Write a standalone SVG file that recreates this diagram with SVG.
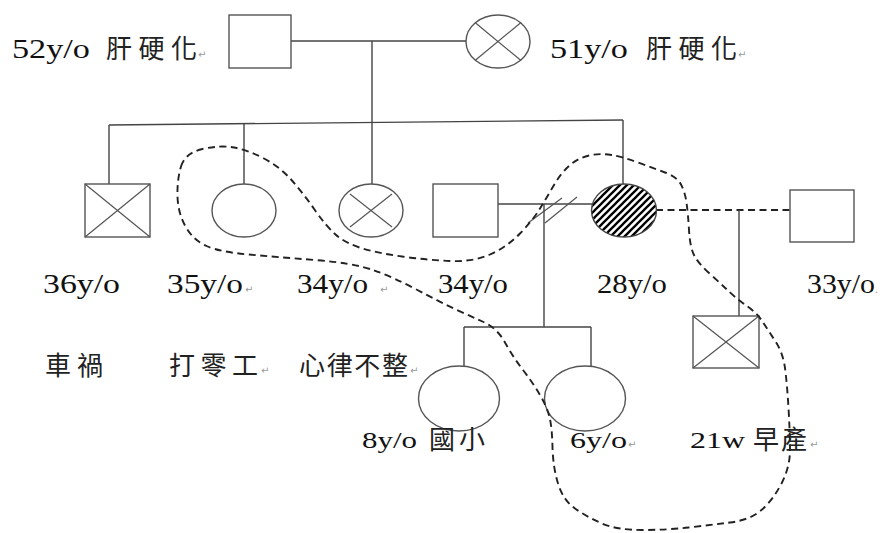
<svg xmlns="http://www.w3.org/2000/svg" width="886" height="533" viewBox="0 0 886 533">
<defs>
<pattern id="hatch" patternUnits="userSpaceOnUse" width="7" height="7">
<path d="M-1,1 L1,-1 M0,7 L7,0 M6,8 L8,6" stroke="#000" stroke-width="2.3"/>
</pattern>
<style>
.shape{fill:#fff;stroke:#555;stroke-width:1.4}
.x{stroke:#555;stroke-width:1.2;fill:none}
.ln{stroke:#444;stroke-width:1.4;fill:none}
.dash{stroke:#222;stroke-width:1.9;fill:none;stroke-dasharray:7 4.5}
.lat{font-family:"Liberation Serif","Times New Roman",serif;font-size:27px;fill:#111}
.sm{font-size:24px}
.cjk{font-family:"Noto Sans CJK TC","Noto Sans CJK SC",sans-serif;font-size:26px;fill:#222}
.ret{font-family:"DejaVu Sans",sans-serif;font-size:10px;fill:#999}
</style>
</defs>
<rect width="886" height="533" fill="#fff"/>

<g id="connectors">
<line class="ln" x1="290" y1="41" x2="466" y2="41"/>
<line class="ln" x1="372" y1="41" x2="372" y2="184"/>
<line class="ln" x1="109" y1="125" x2="623" y2="120"/>
<line class="ln" x1="109" y1="125" x2="109" y2="184"/>
<line class="ln" x1="244" y1="124" x2="244" y2="184"/>
<line class="ln" x1="623" y1="120" x2="623" y2="184"/>
<line class="ln" x1="498" y1="204" x2="592" y2="204"/>
<line class="x" x1="528" y1="223" x2="562" y2="198"/>
<line class="x" x1="545" y1="223" x2="577" y2="197"/>
<line class="ln" x1="544" y1="204" x2="544" y2="327"/>
<line class="ln" x1="464" y1="327" x2="591" y2="327"/>
<line class="ln" x1="464" y1="327" x2="464" y2="366"/>
<line class="ln" x1="591" y1="327" x2="591" y2="366"/>
<line class="dash" x1="656" y1="210" x2="790" y2="210"/>
<line class="ln" x1="739" y1="210" x2="739" y2="316"/>
</g>

<g id="father">
<rect class="shape" x="229" y="15" width="62" height="53"/>
<text class="lat" x="12" y="58" textLength="78" lengthAdjust="spacingAndGlyphs">52y/o</text>
<text class="cjk" x="106" y="58" textLength="91" lengthAdjust="spacing">肝硬化</text>
<text class="ret" x="198" y="58">↵</text>
</g>

<g id="mother">
<ellipse class="shape" cx="498" cy="41.5" rx="32" ry="26.5"/>
<line class="x" x1="475" y1="22.5" x2="521" y2="60.5"/>
<line class="x" x1="521" y1="22.5" x2="475" y2="60.5"/>
<text class="lat" x="550" y="58" textLength="78" lengthAdjust="spacingAndGlyphs">51y/o</text>
<text class="cjk" x="646" y="58" textLength="91" lengthAdjust="spacing">肝硬化</text>
<text class="ret" x="738" y="58">↵</text>
</g>

<g id="son36">
<rect class="shape" x="85" y="184" width="65" height="53"/>
<line class="x" x1="85" y1="184" x2="150" y2="237"/>
<line class="x" x1="150" y1="184" x2="85" y2="237"/>
<text class="lat" x="43" y="293" textLength="77" lengthAdjust="spacingAndGlyphs">36y/o</text>
<text class="cjk" x="45" y="375" textLength="58" lengthAdjust="spacing">車禍</text>
</g>

<g id="daughter35">
<ellipse class="shape" cx="244" cy="210.5" rx="32" ry="26.5"/>
<text class="lat" x="167" y="293" textLength="76" lengthAdjust="spacingAndGlyphs">35y/o</text>
<text class="ret" x="245" y="293">↵</text>
<text class="cjk" x="169" y="375" textLength="89" lengthAdjust="spacing">打零工</text>
<text class="ret" x="261" y="374">↵</text>
</g>

<g id="daughter34">
<ellipse class="shape" cx="371" cy="210.5" rx="32" ry="26.5"/>
<line class="x" x1="350" y1="194" x2="392" y2="227"/>
<line class="x" x1="392" y1="194" x2="350" y2="227"/>
<text class="lat" x="297" y="293" textLength="71" lengthAdjust="spacingAndGlyphs">34y/o</text>
<text class="ret" x="380" y="293">↵</text>
<text class="cjk" x="299" y="375" textLength="109" lengthAdjust="spacing">心律不整</text>
<text class="ret" x="410" y="374">↵</text>
</g>

<g id="exhusband34">
<rect class="shape" x="433" y="184" width="65" height="53"/>
<text class="lat" x="438" y="293" textLength="70" lengthAdjust="spacingAndGlyphs">34y/o</text>
</g>

<g id="index28">
<ellipse cx="624" cy="210.5" rx="32.5" ry="26.5" fill="url(#hatch)" stroke="#444" stroke-width="1.4"/>
<text class="lat" x="597" y="293" textLength="70" lengthAdjust="spacingAndGlyphs">28y/o</text>
</g>

<g id="partner33">
<rect class="shape" x="790" y="190" width="64" height="52"/>
<text class="lat" x="807" y="293" textLength="68" lengthAdjust="spacingAndGlyphs">33y/o</text>
<text class="ret" x="875" y="293" font-size="12">.</text>
</g>

<g id="child8">
<ellipse class="shape" cx="459" cy="398.5" rx="40.5" ry="32.5"/>
<text class="lat sm" x="362" y="448" textLength="55" lengthAdjust="spacingAndGlyphs">8y/o</text>
<text class="cjk" x="429" y="449" font-size="22" textLength="56" lengthAdjust="spacing">國小</text>
</g>

<g id="child6">
<ellipse class="shape" cx="585" cy="398.5" rx="40.5" ry="32.5"/>
<text class="lat sm" x="570" y="448" textLength="57" lengthAdjust="spacingAndGlyphs">6y/o</text>
<text class="ret" x="628" y="448">↵</text>
</g>

<g id="fetus21w">
<rect class="shape" x="693" y="316" width="66" height="52"/>
<line class="x" x1="693" y1="316" x2="759" y2="368"/>
<line class="x" x1="759" y1="316" x2="693" y2="368"/>
<text class="lat sm" x="690" y="448" textLength="55" lengthAdjust="spacingAndGlyphs">21w</text>
<text class="cjk" x="753" y="449" font-size="22" textLength="54" lengthAdjust="spacing">早產</text>
<text class="ret" x="810" y="448">↵</text>
</g>

<g id="household">
<path class="dash" d="M181,166.5 Q185,153 202.5,149 Q220,145 234,147.5 Q248,150 264,158.5 Q280,167 291.5,180 Q303,193 314.5,209.5 Q326,226 335.5,234.5 Q345,243 361,248 Q377,253 402,256.5 Q427,260 450,261 Q473,262 490,254.5 Q507,247 520,233.5 Q533,220 540,208.5 Q547,197 554,185 Q561,173 569.5,165.5 Q578,158 589,155.5 Q600,153 611.5,155 Q623,157 638,162.5 Q653,168 665,172.5 Q677,177 681,184.5 Q685,192 686.5,202.5 Q688,213 689,230 Q690,247 694,255 Q698,263 709,273 Q720,283 729,291.5 Q738,300 747.5,306.5 Q757,313 762.5,321.5 Q768,330 775.5,341.5 Q783,353 785,368 Q787,383 788.5,408 Q790,433 790,450 Q790,467 781.5,483.5 Q773,500 761.5,510 Q750,520 730,522.5 Q710,525 688.5,527.5 Q667,530 642,530 Q617,530 602,523.5 Q587,517 575,508.5 Q563,500 558,483.5 Q553,467 552.5,447 Q552,427 549.5,417 Q547,407 540,395 Q533,383 523,370 Q513,357 505,342.5 Q497,328 483.5,322 Q470,316 455,309 Q440,302 416.5,289.5 Q393,277 373,270 Q353,263 315,260 Q277,257 248.5,254.5 Q220,252 206.5,246 Q193,240 185.5,226.5 Q178,213 177.5,196.5 Q177,180 181,166.5 Z"/>
</g>
</svg>
